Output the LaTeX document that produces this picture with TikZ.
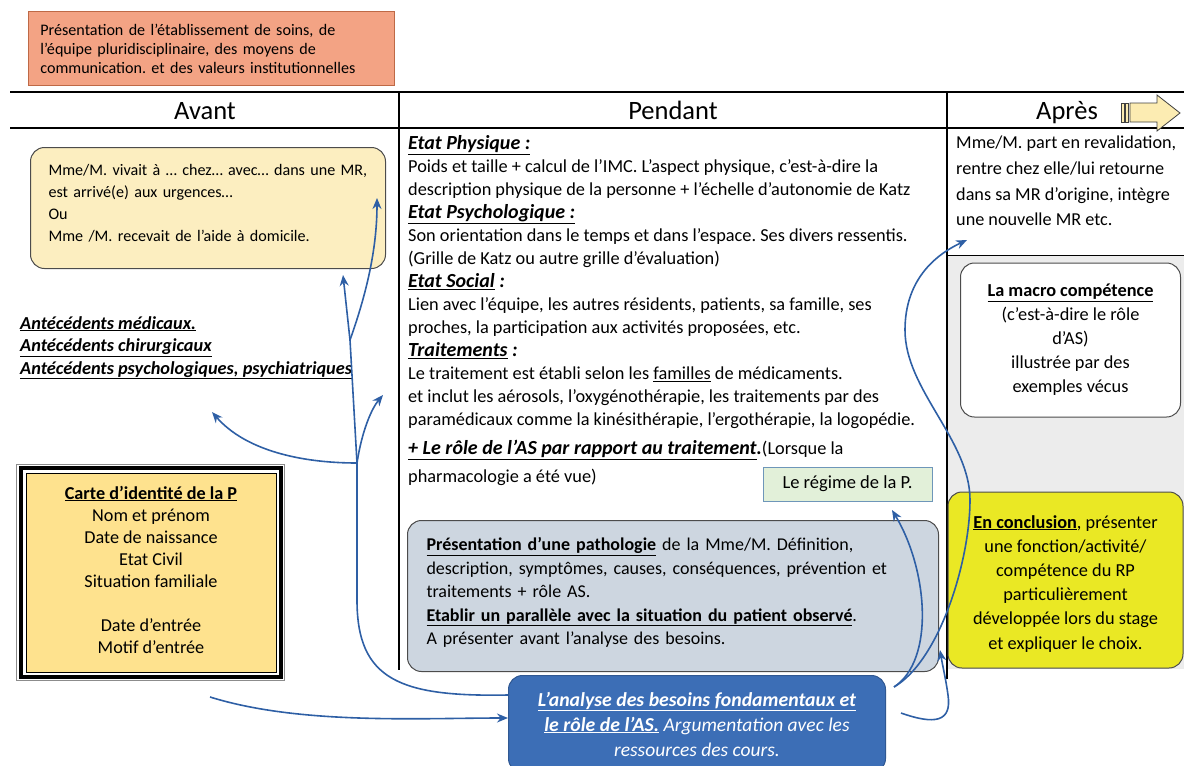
\documentclass[tikz,border=0pt]{standalone}
\usepackage{fontspec}
\setmainfont{Carlito}
\usetikzlibrary{positioning, calc, arrows.meta}

\definecolor{linkblue}{RGB}{46, 95, 165}
\definecolor{salmon1}{RGB}{243, 163, 132}
\definecolor{salmonline}{RGB}{190, 105, 70}
\definecolor{avantfill}{RGB}{252, 238, 192}
\definecolor{cartefill}{RGB}{254, 226, 142}
\definecolor{pathofill}{RGB}{205, 214, 224}
\definecolor{analyseblue}{RGB}{60, 110, 182}
\definecolor{regimefill}{RGB}{226, 240, 217}
\definecolor{regimeline}{RGB}{110, 150, 185}
\definecolor{concyellow}{RGB}{234, 232, 36}
\definecolor{apresgray}{RGB}{236, 236, 236}
\definecolor{headarrow}{RGB}{252, 236, 178}

\newcommand{\etathead}{\bfseries\itshape\fontsize{20}{23}\selectfont}

\tikzset{
  body/.style={inner sep=0pt, align=left},
  roundbox/.style={draw=black!70, line width=1pt, rounded corners=14pt},
  colhead/.style={font=\fontsize{26.5}{30}\selectfont, anchor=base},
  link/.style={draw=linkblue, line width=1.6pt, -{Stealth[length=11pt, width=9pt]}},
  stem/.style={draw=linkblue, line width=1.6pt},
}

\begin{document}
\frenchspacing
\begin{tikzpicture}[x=1pt, y=-1pt]
  \useasboundingbox (0,0) rectangle (1184,766);

  % Table
  \fill[apresgray] (947,255) rectangle (1184,669);
  \draw[line width=1.2pt] (10,92) -- (1184,92);
  \draw[line width=1.2pt] (10,128) -- (1184,128);
  \draw[line width=1.2pt] (399,92) -- (399,670);
  \draw[line width=1.2pt] (947,92) -- (947,679);
  \draw[line width=1pt] (947,255) -- (1184,255);

  \node[colhead] (avant) at (205,119) {Avant};
  \node[colhead] (pendant) at (673,119) {Pendant};
  \node[colhead] (apres) at (1067,119) {Après};

  % Arrow next to Apres
  \draw[fill=headarrow, draw=black!75, line width=0.8pt] (1121,103) rectangle (1124,122);
  \draw[fill=headarrow, draw=black!75, line width=0.8pt] (1125.5,103) rectangle (1128.5,122);
  \draw[fill=headarrow, draw=black!75, line width=0.8pt]
    (1130,103) -- (1157,103) -- (1157,95) -- (1180,113) -- (1157,131) -- (1157,122) -- (1130,122) -- cycle;

  % Etablissement
  \node[draw=salmonline, fill=salmon1, line width=0.8pt, anchor=north west, minimum width=366pt, minimum height=74pt,
        text width=342pt, inner xsep=12pt, align=left, font=\fontsize{16.1}{19}\selectfont] (etab) at (28,11)
    {Présentation de l’établissement de soins, de\\
     l’équipe pluridisciplinaire, des moyens de\\
     communication. et des valeurs institutionnelles};

  % Avant
  \node[roundbox, fill=avantfill, anchor=north west, minimum width=355pt, minimum height=121pt,
        text width=319pt, inner xsep=18pt, align=left, font=\fontsize{16.1}{22}\selectfont] (vivait) at (30,147)
    {\mbox{Mme/M. vivait à … chez… avec… dans une MR,}\\
     est arrivé(e) aux urgences…\\
     Ou\\
     Mme /M. recevait de l’aide à domicile.\\[-11pt]\mbox{}};

  \node[body, anchor=north west, font=\bfseries\itshape\fontsize{18.3}{22.5}\selectfont] (antecedents) at (20,316)
    {\underline{Antécédents médicaux.}\\
     \underline{Antécédents chirurgicaux}\\
     \underline{Antécédents psychologiques, psychiatriques}};

  \node[draw=black, fill=cartefill, line width=0.8pt, minimum width=250pt, minimum height=199pt,
        align=center, font=\fontsize{18.2}{22}\selectfont] (carte) at (151,572.5)
    {\underline{\textbf{Carte d’identité de la P}}\\
     Nom et prénom\\
     Date de naissance\\
     Etat Civil\\
     Situation familiale\\[22pt]
     Date d’entrée\\
     Motif d’entrée\\[-16pt]\mbox{}};
  \draw[line width=3.5pt] ($(carte.north west)+(-4.5,-4.5)$) rectangle ($(carte.south east)+(4.5,4.5)$);
  \draw[black!45, line width=0.8pt] ($(carte.north west)+(-9,-8)$) rectangle ($(carte.south east)+(8,8)$);

  % Pendant
  \node[body, anchor=north west, font=\fontsize{18.3}{23}\selectfont] (etats) at (408,135)
    {{\etathead\underline{Etat Physique :}}\\
     Poids et taille + calcul de l’IMC. L’aspect physique, c’est-à-dire la\\
     description physique de la personne + l’échelle d’autonomie de Katz\\
     {\etathead\underline{Etat Psychologique :}}\\
     Son orientation dans le temps et dans l’espace. Ses divers ressentis.\\
     (Grille de Katz ou autre grille d’évaluation)\\
     {\etathead\underline{Etat Social} :}\\
     Lien avec l’équipe, les autres résidents, patients, sa famille, ses\\
     proches, la participation aux activités proposées, etc.\\
     {\etathead\underline{Traitements} :}\\
     Le traitement est établi selon les \underline{familles} de médicaments.\\
     et inclut les aérosols, l’oxygénothérapie, les traitements par des\\
     paramédicaux comme la kinésithérapie, l’ergothérapie, la logopédie.\\[6pt]
     {\etathead\underline{+ Le rôle de l’AS par rapport au traitement}.}(Lorsque la\\[5pt]
     pharmacologie a été vue)};

  \node[draw=regimeline, fill=regimefill, line width=0.8pt, minimum width=169pt, minimum height=34pt,
        font=\fontsize{18.5}{20}\selectfont] (regime) at (847.5,484) {Le régime de la P.};

  \node[roundbox, fill=pathofill, anchor=north west, minimum width=531pt, minimum height=151pt,
        text width=493pt, inner xsep=19pt, align=left, font=\fontsize{18}{23.5}\selectfont] (patho) at (407,520)
    {\underline{\textbf{Présentation d’une pathologie}} de la Mme/M. Définition,\\
     description, symptômes, causes, conséquences, prévention et\\
     traitements + rôle AS.\\
     \underline{\textbf{Etablir un parallèle avec la situation du patient observé}}.\\
     A présenter avant l’analyse des besoins.\\[-14pt]\mbox{}};

  \node[draw=analyseblue!80!black, fill=analyseblue, line width=1pt, rounded corners=14pt, anchor=north west,
        minimum width=377pt, minimum height=97pt, text=white, align=center,
        font=\itshape\fontsize{19.5}{25}\selectfont] (analyse) at (508,675)
    {{\bfseries\fontsize{19.8}{25}\selectfont\underline{L’analyse des besoins fondamentaux et}}\\
     {\bfseries\fontsize{19.8}{25}\selectfont\underline{le rôle de l’AS.}} Argumentation avec les\\
     ressources des cours.};

  % Apres
  \node[body, anchor=north west, font=\fontsize{18.2}{25.6}\selectfont] (revalidation) at (956,136)
    {Mme/M. part en revalidation,\\
     rentre chez elle/lui retourne\\
     dans sa MR d’origine, intègre\\
     une nouvelle MR etc.};

  \node[roundbox, fill=white, minimum width=220pt, minimum height=154pt, align=center,
        font=\fontsize{18.3}{24}\selectfont] (macro) at (1070.5,340)
    {\underline{\textbf{La macro compétence}}\\
     (c’est-à-dire le rôle\\
     d’AS)\\
     illustrée par des\\
     exemples vécus};

  \node[roundbox, fill=concyellow, minimum width=235pt, minimum height=176pt, align=center,
        font=\fontsize{18.3}{24.2}\selectfont] (conclusion) at (1065.5,580)
    {\mbox{}\\[-4pt]
     \underline{\textbf{En conclusion}}, présenter\\
     une fonction/activité/\\
     compétence du RP\\
     particulièrement\\
     développée lors du stage\\
     et expliquer le choix.};

  % Connectors
  \coordinate (fork) at (357,463);
  \coordinate (knot) at (350,340);
  \coordinate (tipleft) at (212,412);
  \coordinate (tipmid) at (383,395);
  \coordinate (tipbox) at (343,275);
  \coordinate (tipinside) at (377,198);
  \coordinate (tail) at (210,697);
  \coordinate (tipregime) at (892,510);
  \coordinate (tiprevalid) at (967,240);
  \coordinate (tippatho) at (940,650);

  \draw[stem] ($(analyse.north west)+(0,20)$) .. controls (400,697) and (357,680) .. (357,600) -- (fork) -- (knot);
  \draw[link] (fork) .. controls (300,463) and (245,450) .. (tipleft);
  \draw[link] (fork) .. controls (362,430) and (372,408) .. (tipmid);
  \draw[link] (knot) -- (tipbox);
  \draw[link] (knot) .. controls (366,295) and (377,250) .. (tipinside);
  \draw[link] (tail) .. controls (300,725) and (420,718) .. ($(analyse.west)+(0,-6)$);

  \draw[link] ($(analyse.north east)+(8,12)$) .. controls (935,660) and (928,570) .. (tipregime);
  \draw[link] ($(analyse.north east)+(8,12)$) .. controls (940,660) and (970,560) .. (970,500)
    .. controls (970,440) and (905,390) .. (905,330) .. controls (905,280) and (935,255) .. (tiprevalid);
  \draw[link] ($(analyse.east)+(15,-11)$) .. controls (935,725) and (952,722) .. (948,695)
    .. controls (946,680) and (943,668) .. (tippatho);
\end{tikzpicture}
\end{document}
